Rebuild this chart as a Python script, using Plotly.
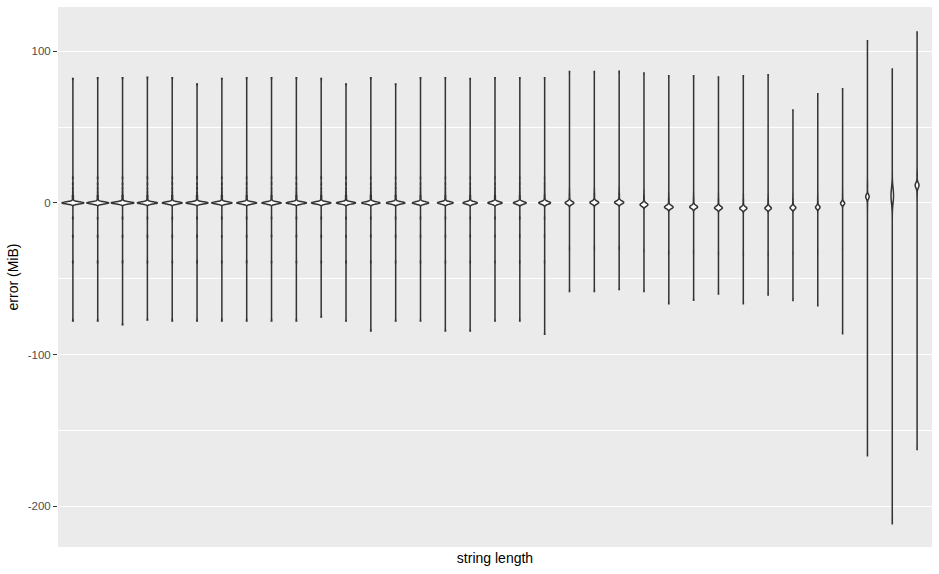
import plotly.graph_objects as go

# --- data (values in MiB) ---
positions = list(range(1, 36))  # 35 string-length categories (axis labels hidden)

medians = [0, 0, 0, 0, 0, 0, 0, 0, 0, 0,
           0, 0, 0, 0, 0, 0, 0, 0, 0, 0,
           0, 0.2, 0.3, -1.2, -2.8, -2.7, -3.3, -3.6, -3.5, -3.2,
           -2.9, -0.3, 4.1, 4.8, 11.6]

maxima = [82.1, 82.5, 82.5, 82.8, 82.5, 78.4, 82.1, 82.5, 82.5, 82.5,
          82.1, 78.4, 82.5, 78.4, 82.5, 82.5, 82.1, 82.5, 82.5, 82.5,
          86.7, 86.7, 86.9, 85.7, 83.8, 83.8, 83.0, 83.8, 84.5, 61.3,
          71.9, 75.3, 106.9, 88.3, 112.7]

minima = [-78.0, -78.0, -80.4, -77.2, -78.0, -78.0, -78.0, -78.0, -78.0, -78.0,
          -75.3, -78.0, -84.5, -78.0, -78.0, -84.5, -84.5, -78.0, -78.0, -86.7,
          -58.4, -58.4, -57.2, -58.4, -66.6, -64.2, -60.1, -66.6, -60.8, -64.4,
          -67.8, -86.4, -166.8, -211.7, -162.7]

# apparent spread of the central bulge (kernel bandwidth, MiB)
spreads = [0.7, 0.7, 0.7, 0.7, 0.7, 0.7, 0.7, 0.7, 0.7, 0.7,
           0.72, 0.72, 0.74, 0.74, 0.76, 0.76, 0.78, 0.8, 0.82, 0.9,
           1.0, 1.0, 1.0, 1.05, 1.05, 1.05, 1.05, 1.05, 1.05, 1.05,
           1.05, 1.05, 1.5, 5.0, 1.7]

# widest part of each violin, in pixels as seen in the reference
bulge_px = [23.3, 23.3, 24.3, 21.7, 21.3, 23.3, 21.7, 21.3, 20.7, 21.7,
            21.0, 20.7, 19.7, 20.0, 18.0, 17.3, 16.0, 15.7, 14.3, 13.3,
            10.0, 10.3, 10.7, 9.3, 10.0, 9.3, 9.3, 8.7, 8.0, 7.3,
            6.0, 5.7, 5.0, 4.0, 5.3]

# small secondary clusters visible along the thin tails (offsets from median)
satellites_left = [2.5, 2.5, 4.5, 4.5, 7, 9.5, 12.5, 16.5, -10, -22, -39]
satellites_right = [3, 3, 5.5, 5.5, 8.5, -30]
satellites_wide = [-8, -5, -5, 6, 6, 8, 10]
satellite_group = ["left"] * 20 + ["right"] * 12 + ["wide", "none", "wide"]

CENTER_COUNT = 40
PX_PER_UNIT = 874 / 35.2

sat_lookup = {"left": satellites_left, "right": satellites_right,
              "wide": satellites_wide, "none": []}

fig = go.Figure()
for i, pos in enumerate(positions):
    m = medians[i]
    ys = [minima[i], maxima[i]] + [m] * CENTER_COUNT + [m + o for o in sat_lookup[satellite_group[i]]]
    fig.add_trace(go.Violin(
        x=[pos] * len(ys), y=ys, name=f"len {pos}", orientation="v",
        spanmode="hard", bandwidth=spreads[i],
        width=max(bulge_px[i] - 1.5, 1.0) / PX_PER_UNIT,
        scalemode="width", points=False,
        box=dict(visible=False), meanline=dict(visible=False),
        fillcolor="white", line=dict(color="#333333", width=1.5),
        showlegend=False, hoverinfo="y",
    ))

fig.update_layout(
    width=939, height=574,
    margin=dict(l=58, r=7, t=7, b=27),
    paper_bgcolor="white", plot_bgcolor="#EBEBEB",
    violinmode="overlay", violingap=0, violingroupgap=0,
    font=dict(family="Liberation Sans, Arial, sans-serif"),
    showlegend=False,
)
fig.update_xaxes(
    range=[0.4, 35.6], showticklabels=False, ticks="", showgrid=False,
    zeroline=False, showline=False,
    title=dict(text="string length", font=dict(size=14, color="black"), standoff=6),
)
fig.update_yaxes(
    range=[-227, 129.2], tickmode="array", tickvals=[-200, -100, 0, 100],
    ticktext=["-200", "-100", "0", "100"],
    ticks="outside", ticklen=4, tickcolor="#333333", tickwidth=1,
    tickfont=dict(size=11.5, color="#4D4D4D"),
    showgrid=True, gridcolor="white", gridwidth=1.1,
    minor=dict(tickmode="array", tickvals=[-150, -50, 50], showgrid=True,
               gridcolor="white", gridwidth=0.55, ticks=""),
    zeroline=False, showline=False,
    title=dict(text="error (MiB)", font=dict(size=14, color="black"), standoff=5),
)

fig.write_html("out.html")
